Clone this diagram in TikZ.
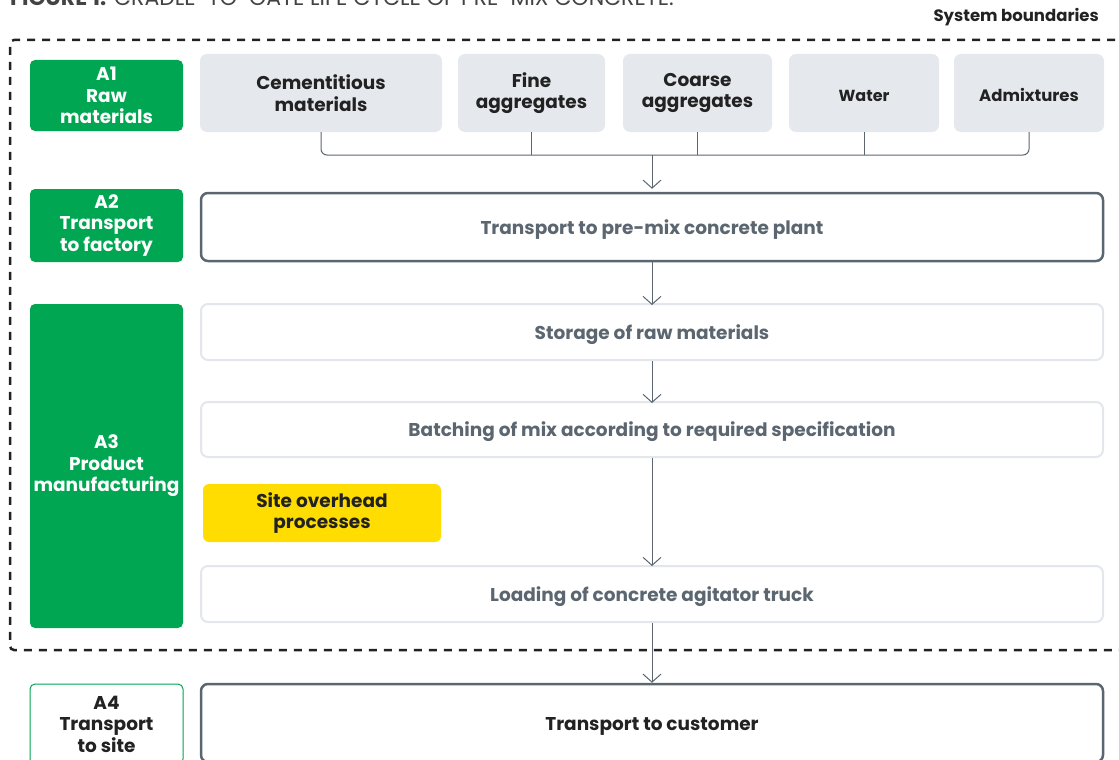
\documentclass[tikz,border=0pt]{standalone}
\usepackage{fontspec}
\setmainfont{Poppins}
\usetikzlibrary{arrows.meta}
\definecolor{stagegreen}{RGB}{0,166,81}
\definecolor{inputgrey}{RGB}{229,232,236}
\definecolor{slate}{RGB}{91,102,112}
\definecolor{paleline}{RGB}{227,231,235}
\definecolor{siteyellow}{RGB}{255,221,0}
\definecolor{inkdark}{RGB}{34,34,34}

\begin{document}
\begin{tikzpicture}[x=1pt, y=-1pt,
    stage/.style={rectangle, rounded corners=5pt, fill=stagegreen, text=white,
      font=\bfseries\fontsize{18.5}{21.5}\selectfont, align=center,
      minimum width=153pt, inner sep=0pt,
      execute at begin node={\rule{0pt}{18pt}}},
    input/.style={rectangle, rounded corners=7pt, fill=inputgrey, text=inkdark,
      font=\bfseries\fontsize{18.5}{21.5}\selectfont, align=center,
      minimum height=78pt, inner sep=0pt,
      execute at begin node={\rule{0pt}{18pt}}},
    process/.style={rectangle, rounded corners=7pt, draw=paleline, line width=2pt,
      fill=white, text=slate, font=\bfseries\fontsize{18.5}{21.5}\selectfont,
      minimum width=902pt, minimum height=56pt, inner sep=0pt,
      execute at begin node={\rule{0pt}{20pt}}},
    transport/.style={process, draw=slate, line width=2.5pt},
    flow/.style={draw=slate, line width=1pt,
      -{Straight Barb[length=8pt, width=18pt]}}]
    \useasboundingbox (0,0) rectangle (1119,760);
    % heading
    \node[anchor=base west, inner sep=0pt, text=inkdark!85,
      font=\fontsize{22}{26}\selectfont] (title) at (10,6)
      {\textbf{FIGURE 1.} CRADLE-TO-GATE LIFE CYCLE OF PRE-MIX CONCRETE.};
    \node[anchor=east, inner sep=0pt, text=inkdark,
      font=\bfseries\fontsize{16.5}{19}\selectfont] (sysb) at (1099,17)
      {System boundaries};
    % system boundary
    \draw[line width=2.5pt, dash pattern=on 8pt off 7pt, rounded corners=4pt, inkdark]
      (1130,40) -| (10,650) -- (1130,650);
    % stages
    \node[stage, minimum height=71pt] (a1) at (106.5,95.5) {A1\\Raw\\materials};
    \node[stage, minimum height=73pt] (a2) at (106.5,225.5) {A2\\Transport\\to factory};
    \node[stage, minimum height=324pt] (a3) at (106.5,466) {A3\\Product\\manufacturing};
    \node[stage, minimum height=80pt, fill=white, draw=stagegreen, line width=1pt,
      text=inkdark] (a4) at (106.5,724) {A4\\Transport\\to site};
    % raw material inputs
    \node[input, minimum width=242pt] (cem) at (321,93) {Cementitious\\materials};
    \node[input, minimum width=147pt] (fine) at (531.5,93) {Fine\\aggregates};
    \node[input, minimum width=149pt] (coarse) at (697.5,93) {Coarse\\aggregates};
    \node[input, minimum width=150pt, font=\bfseries\fontsize{16}{19}\selectfont]
      (water) at (864,93) {Water};
    \node[input, minimum width=150pt, font=\bfseries\fontsize{16.5}{19}\selectfont]
      (admix) at (1029,93) {Admixtures};
    % processes
    \node[transport, minimum height=68pt] (plant) at (652,227)
      {Transport to pre-mix concrete plant};
    \node[process] (store) at (652,332) {Storage of raw materials};
    \node[process, minimum height=55pt] (batch) at (652,429.5)
      {Batching of mix according to required specification};
    \node[rectangle, rounded corners=6pt, fill=siteyellow, text=inkdark,
      font=\bfseries\fontsize{18.5}{21.5}\selectfont, align=center,
      minimum width=238pt, minimum height=58pt, inner sep=0pt,
      execute at begin node={\rule{0pt}{18pt}}] (site) at (322,513)
      {Site overhead\\processes};
    \node[process] (load) at (652,594) {Loading of concrete agitator truck};
    \node[transport, minimum height=78pt, text=inkdark] (cust) at (652,723)
      {Transport to customer};
    % connectors
    \coordinate (hub) at (652,155);
    \draw[slate, line width=1pt, rounded corners=6pt]
      (cem.south) |- (hub) -| (admix.south);
    \foreach \n in {fine,coarse,water}
      \draw[slate, line width=1pt] (\n.south) -- (\n.south |- hub);
    \draw[flow] (hub) -- ([yshift=3pt]plant.north);
    \draw[flow] (plant.south) -- ([yshift=-2pt]store.north);
    \draw[flow] (store.south) -- ([yshift=-2pt]batch.north);
    \draw[flow] (batch.south) -- ([yshift=-1pt]load.north);
    \draw[flow] (load.south) -- (cust.north);
\end{tikzpicture}
\end{document}
